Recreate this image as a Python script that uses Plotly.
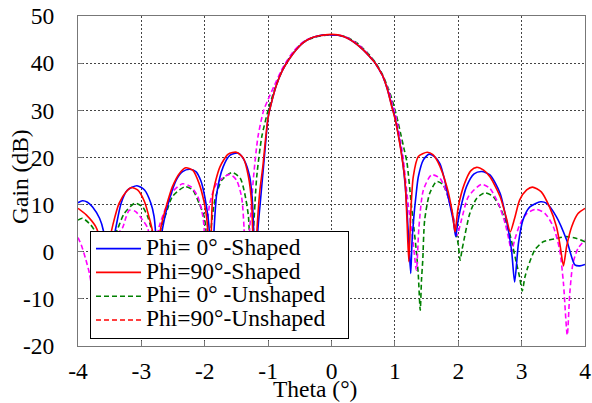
import plotly.graph_objects as go

# ---------------- data ----------------
theta_phi0_shaped = [-4.00, -3.93, -3.85, -3.77, -3.66, -3.60, -3.56, -3.54, -3.50, -3.45, -3.40, -3.32, -3.22, -3.07,
                     -2.95, -2.85, -2.80, -2.77, -2.74, -2.71, -2.64, -2.56, -2.45, -2.35, -2.24, -2.14, -2.06, -2.00,
                     -1.95, -1.92, -1.89, -1.86, -1.81, -1.71, -1.60, -1.47, -1.38, -1.29, -1.25, -1.23, -1.21, -1.18,
                     -1.16, -1.12, -1.08, -1.04, -1.00, -0.94, -0.87, -0.78, -0.68, -0.56, -0.45, -0.33, -0.20, -0.10,
                     0.00, 0.10, 0.20, 0.29, 0.40, 0.50, 0.60, 0.685, 0.75, 0.815, 0.88, 0.95, 1.00, 1.05, 1.105, 1.16,
                     1.19, 1.22, 1.25, 1.27, 1.30, 1.33, 1.37, 1.45, 1.54, 1.62, 1.71, 1.78, 1.84, 1.92, 1.96, 1.99,
                     2.03, 2.13, 2.25, 2.37, 2.50, 2.66, 2.76, 2.84, 2.89, 2.95, 3.02, 3.13, 3.30, 3.39, 3.55, 3.71,
                     3.84, 3.92, 4.00]
gain_phi0_shaped = [10.4, 10.8, 10.5, 9.5, 7.1, 4.5, 0.0, -6.0, 0.0, 2.0, 5.3, 10.3, 13.1, 14.0,
                    13.1, 10.3, 7.5, 3.0, -6.0, 1.0, 6.7, 11.0, 15.2, 17.0, 17.5, 17.0, 15.0, 11.7,
                    7.5, 3.0, -5.0, 3.0, 12.4, 18.0, 20.5, 20.9, 19.5, 15.9, 11.0, 5.0, -6.0, 0.0,
                    5.0, 11.0, 17.0, 23.0, 28.5, 32.0, 35.3, 38.3, 40.6, 42.8, 44.3, 45.3, 45.8, 46.0,
                    46.0, 45.9, 45.6, 45.0, 44.0, 42.8, 41.4, 40.1, 38.7, 37.1, 34.5, 31.0, 28.5, 25.2, 20.9, 14.5,
                    9.0, 2.0, -4.6, 2.0, 7.5, 11.5, 15.9, 19.5, 20.7, 20.2, 18.7, 15.5, 11.7, 6.7, 3.2, 6.0,
                    8.8, 13.8, 16.5, 17.0, 16.3, 12.4, 6.7, 0.4, -6.4, 1.8, 6.7, 9.5, 10.6, 10.3, 7.4, 2.5,
                    -2.8, -3.0, -2.7]

theta_phi90_shaped = [-4.00, -3.87, -3.72, -3.65, -3.60, -3.57, -3.53, -3.50, -3.45, -3.35, -3.24, -3.16, -3.06,
                      -2.95, -2.88, -2.82, -2.79, -2.75, -2.69, -2.61, -2.51, -2.40, -2.30, -2.19, -2.09, -2.01,
                      -1.96, -1.93, -1.90, -1.87, -1.76, -1.63, -1.50, -1.39, -1.31, -1.26, -1.245, -1.21, -1.19,
                      -1.17, -1.13, -1.08, -1.04, -1.00, -0.94, -0.87, -0.78, -0.68, -0.56, -0.45, -0.33, -0.20,
                      -0.10, 0.00, 0.10, 0.20, 0.29, 0.40, 0.50, 0.60, 0.685, 0.75, 0.815, 0.88, 0.95, 1.00, 1.05,
                      1.105, 1.16, 1.19, 1.22, 1.25, 1.29, 1.37, 1.51, 1.60, 1.68, 1.82, 1.91, 1.95, 2.00, 2.10,
                      2.20, 2.29, 2.40, 2.50, 2.66, 2.76, 2.82, 2.89, 2.97, 3.08, 3.17, 3.31, 3.44, 3.55, 3.61,
                      3.66, 3.71, 3.79, 3.89, 4.00]
gain_phi90_shaped = [9.2, 7.8, 5.3, 2.5, -2.0, -8.0, -1.0, 2.5, 5.7, 10.3, 12.7, 13.6, 13.1,
                     10.6, 7.4, 4.0, -4.0, 0.0, 5.3, 9.5, 13.8, 16.6, 17.8, 17.3, 14.5, 10.5,
                     6.0, -4.0, 3.0, 12.4, 18.0, 20.7, 21.1, 19.8, 15.9, 10.3, 5.0, -5.0, 1.0,
                     6.0, 13.0, 18.5, 24.0, 28.5, 32.0, 35.3, 38.3, 40.6, 42.8, 44.3, 45.3, 45.8,
                     46.0, 46.1, 46.0, 45.6, 45.0, 44.0, 42.8, 41.4, 40.1, 38.7, 37.1, 34.5, 30.8, 28.3, 25.0,
                     20.6, 15.0, 7.0, -2.1, 8.0, 15.9, 20.2, 21.1, 20.6, 19.0, 13.8, 8.1, 4.2, 9.5, 14.5,
                     17.2, 17.9, 17.3, 15.9, 11.7, 7.1, 4.2, 7.1, 11.0, 13.1, 13.7, 12.7, 9.5, 5.3, 1.1,
                     -3.0, 1.1, 5.3, 8.1, 9.2]

theta_phi0_unshaped = [-4.00, -3.93, -3.80, -3.72, -3.65, -3.60, -3.55, -3.45, -3.37, -3.27, -3.10, -2.98, -2.90,
                       -2.83, -2.79, -2.74, -2.69, -2.61, -2.51, -2.31, -2.19, -2.09, -2.01, -1.97, -1.94, -1.90,
                       -1.84, -1.73, -1.57, -1.44, -1.37, -1.31, -1.28, -1.25, -1.23, -1.18, -1.10, -1.00, -0.90,
                       -0.80, -0.70, -0.60, -0.50, -0.40, -0.20, 0.00, 0.20, 0.40, 0.50, 0.60, 0.70, 0.80, 0.90,
                       0.95, 1.00, 1.05, 1.10, 1.15, 1.19, 1.26, 1.30, 1.34, 1.37, 1.40, 1.42, 1.44, 1.47, 1.55,
                       1.66, 1.76, 1.87, 1.95, 2.00, 2.03, 2.06, 2.08, 2.18, 2.29, 2.42, 2.55, 2.68, 2.81, 2.92,
                       2.97, 3.01, 3.05, 3.10, 3.21, 3.34, 3.55, 3.71, 3.87, 4.00]
gain_phi0_unshaped = [6.7, 7.1, 5.7, 4.0, 0.0, -6.0, -1.0, 2.5, 5.0, 8.1, 10.3, 9.5, 7.4,
                      4.0, -5.0, 1.0, 5.0, 8.1, 11.7, 13.8, 13.1, 10.3, 7.5, 3.0, -6.0, 5.0,
                      11.0, 15.2, 16.8, 15.6, 12.4, 7.4, -2.0, 2.0, 5.0, 15.9, 24.4, 30.0, 34.3,
                      37.8, 40.4, 42.3, 43.8, 44.8, 45.7, 46.0, 45.7, 44.3, 43.1, 41.7, 40.0, 37.7, 34.5,
                      32.5, 30.2, 27.5, 24.5, 21.5, 19.0, 10.0, 5.0, 0.0, -5.0, -12.4, -6.0, -1.8, 6.7, 12.4,
                      14.9, 14.2, 10.3, 5.3, 1.5, -1.8, 0.5, 1.8, 8.0, 11.3, 12.5, 11.7, 8.8, 3.9, -2.5,
                      -5.5, -8.3, -5.5, -3.2, 0.4, 2.1, 2.8, 3.2, 2.8, 2.1]

theta_phi90_unshaped = [-4.00, -3.95, -3.88, -3.82, -3.77, -3.73, -3.69, -3.60, -3.50, -3.40, -3.30, -3.24, -3.19,
                        -3.09, -2.98, -2.90, -2.86, -2.83, -2.79, -2.72, -2.61, -2.51, -2.35, -2.22, -2.11, -2.03,
                        -2.01, -1.985, -1.96, -1.92, -1.81, -1.61, -1.50, -1.42, -1.38, -1.36, -1.32, -1.29, -1.23,
                        -1.16, -1.07, -1.00, -0.90, -0.80, -0.70, -0.60, -0.50, -0.40, -0.20, 0.00, 0.20, 0.40,
                        0.50, 0.60, 0.70, 0.80, 0.90, 0.95, 1.00, 1.05, 1.10, 1.13, 1.21, 1.29, 1.34, 1.38, 1.45,
                        1.58, 1.71, 1.82, 1.92, 1.98, 2.05, 2.16, 2.37, 2.50, 2.63, 2.74, 2.80, 2.84, 2.89, 2.97,
                        3.08, 3.23, 3.37, 3.50, 3.60, 3.66, 3.72, 3.76, 3.81, 3.89, 4.00]
gain_phi90_unshaped = [3.0, 1.5, -1.5, -4.6, -9.0, -18.0, -8.0, -1.0, 1.5, 3.5, 5.0, 7.4, 8.8,
                       8.5, 6.7, 5.0, 1.0, -6.0, 0.0, 5.3, 9.5, 12.7, 14.4, 13.8, 11.7, 7.5,
                       5.0, -5.0, 5.0, 10.3, 14.5, 16.4, 15.2, 11.7, 5.0, -5.0, 0.0, 5.0, 15.9,
                       24.4, 30.0, 32.3, 35.3, 38.2, 40.6, 42.5, 43.9, 44.9, 45.8, 46.0, 45.7, 44.2,
                       43.0, 41.5, 39.8, 37.4, 34.2, 31.8, 29.5, 26.5, 22.5, 20.0, 10.0, 1.8, -3.9, 5.3, 13.1,
                       16.3, 15.6, 12.4, 7.4, 3.5, 6.7, 11.7, 14.3, 13.4, 10.3, 6.0, 2.5, 0.0, 2.5, 5.7,
                       8.1, 9.0, 8.1, 5.3, 0.4, -6.7, -17.7, -8.8, -2.5, 0.7, 2.5]

x_ticks = [-4, -3, -2, -1, 0, 1, 2, 3, 4]
y_ticks = [-20, -10, 0, 10, 20, 30, 40, 50]

series_names = ["Phi= 0° -Shaped", "Phi=90°-Shaped", "Phi= 0° -Unshaped", "Phi=90°-Unshaped"]

# ---------------- figure ----------------
FONT = "Liberation Serif"
BIG = 23.5


def lg(name, pad=0):
    return '<span style="font-size:%spx">%s%s</span>' % (BIG, name, "&nbsp;" * pad)


fig = go.Figure()
dash = "5px,3px"
fig.add_trace(go.Scatter(x=theta_phi0_unshaped, y=gain_phi0_unshaped, mode="lines",
                         name=lg(series_names[2], 3), legendrank=3,
                         line=dict(color="#008000", width=1.6, dash=dash, shape="spline", smoothing=0.7)))
fig.add_trace(go.Scatter(x=theta_phi90_unshaped, y=gain_phi90_unshaped, mode="lines",
                         name=series_names[3], showlegend=False,
                         line=dict(color="#ff00ff", width=1.6, dash=dash, shape="spline", smoothing=0.7)))
fig.add_trace(go.Scatter(x=theta_phi0_shaped, y=gain_phi0_shaped, mode="lines",
                         name=lg(series_names[0]), legendrank=1,
                         line=dict(color="#0000ff", width=1.6, shape="spline", smoothing=0.7)))
fig.add_trace(go.Scatter(x=theta_phi90_shaped, y=gain_phi90_shaped, mode="lines",
                         name=lg(series_names[1]), legendrank=2,
                         line=dict(color="#ff0000", width=1.6, shape="spline", smoothing=0.7)))
# legend entry of the unshaped phi=90 cut is drawn red-dashed in the reference
fig.add_trace(go.Scatter(x=[None], y=[None], mode="lines", name=lg(series_names[3], 3), legendrank=4,
                         line=dict(color="#ff0000", width=1.6, dash=dash)))

axis_common = dict(
    showgrid=True, gridcolor="#444444", griddash="2px,2px", gridwidth=1,
    zeroline=False, showline=True, linecolor="#777777", linewidth=1, mirror=True,
    ticks="inside", ticklen=5, tickcolor="#777777", automargin=False,
    tickfont=dict(family=FONT, size=BIG, color="black"),
)
fig.update_xaxes(range=[-4, 4], tickvals=x_ticks, ticktext=[str(v) for v in x_ticks],
                 ticklabelstandoff=4, **axis_common)
fig.update_yaxes(range=[-20, 50], tickvals=y_ticks, ticktext=[str(v) for v in y_ticks],
                 ticklabelstandoff=18, **axis_common)

fig.add_annotation(text="Theta (°)", xref="paper", yref="paper", x=(315 - 78) / 507, y=(346 - 389) / 330,
                   showarrow=False, font=dict(family=FONT, size=BIG, color="black"),
                   xanchor="center", yanchor="middle")
fig.add_annotation(text="Gain (dB)", xref="paper", yref="paper", x=(20 - 78) / 507, y=(346 - 177) / 330,
                   showarrow=False, textangle=-90, font=dict(family=FONT, size=BIG, color="black"),
                   xanchor="center", yanchor="middle")

fig.update_layout(
    width=592, height=403, autosize=False,
    margin=dict(l=78, r=7, t=16, b=57, autoexpand=False),
    paper_bgcolor="white", plot_bgcolor="white",
    font=dict(family=FONT, color="black"),
    showlegend=True,
    legend=dict(x=(90 - 78) / 507, y=(346 - 230.7) / 330, xanchor="left", yanchor="top",
                bgcolor="white", bordercolor="black", borderwidth=1,
                font=dict(family=FONT, size=16, color="black"),
                itemwidth=45, tracegroupgap=0),
)

fig.write_html("out.html", config={"displayModeBar": False},
               post_script="document.body.style.margin='0px';document.body.style.padding='0px';"
                           "document.body.style.overflow='hidden';")
